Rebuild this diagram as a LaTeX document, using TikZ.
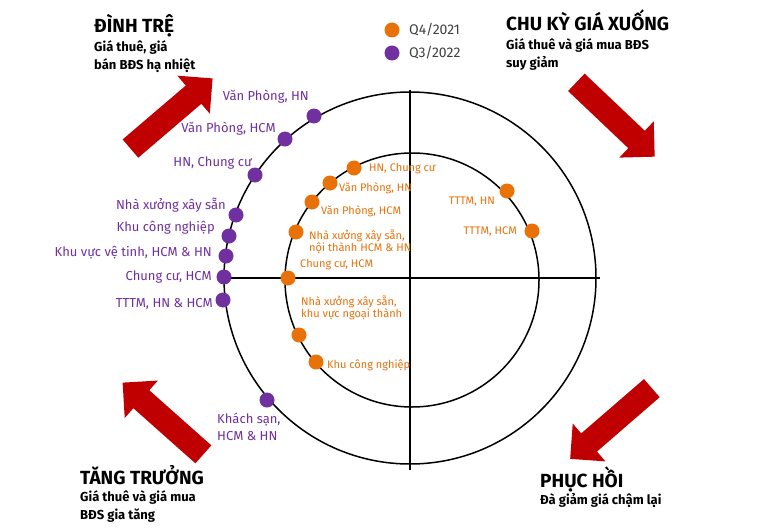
\documentclass[tikz,border=0pt]{standalone}
\usepackage{fontspec}
\setmainfont{Fira Sans}
\definecolor{org}{HTML}{E8710A}
\definecolor{pur}{HTML}{7030A0}
\definecolor{rd}{HTML}{C00000}
\begin{document}
\begin{tikzpicture}[x=1pt,y=-1pt,
  od/.style={circle,fill=org,minimum size=15pt,inner sep=0pt},
  pd/.style={circle,fill=pur,minimum size=15pt,inner sep=0pt},
  ol/.style={text=org,font=\fontsize{11}{12}\selectfont,inner sep=0pt,align=left},
  pl/.style={text=pur,font=\fontsize{13}{17}\selectfont,inner sep=0pt},
  ttl/.style={font=\fontsize{19}{22}\selectfont\bfseries,inner sep=0pt,anchor=base west},
  sub/.style={font=\fontsize{13}{18.5}\selectfont\bfseries,inner sep=0pt,anchor=north west,align=left},
  blockarrow/.pic={\fill[rd] (-54,-12) -- (29,-12) -- (29,-25) -- (54,0) -- (29,25) -- (29,12) -- (-54,12) -- cycle;}]
\useasboundingbox (0,0) rectangle (765,527);
\fill[white] (0,0) rectangle (765,527);
\node[circle,draw,line width=1.5pt,minimum size=372pt,inner sep=0pt] (outer) at (410,278) {};
\node[circle,draw,line width=1.5pt,minimum size=254pt,inner sep=0pt] (inner) at (412,280) {};
\coordinate (vt) at (410,90); \coordinate (vb) at (410,470);
\coordinate (hl) at (224,278); \coordinate (hr) at (600,278);
\draw[line width=1.5pt] (vt) -- (vb);
\draw[line width=1.5pt] (hl) -- (hr);
% arrows
\pic[rotate=40.5] at (171.5,113.5) {blockarrow};
\pic[rotate=-43.5] at (615.5,119.5) {blockarrow};
\pic[rotate=138.4] at (163,418.5) {blockarrow};
\pic[rotate=-139.1] at (611,423.5) {blockarrow};
% titles
\node[ttl] (t1) at (94,33) {ĐÌNH TRỆ};
\node[sub] (s1) at (94,40) {Giá thuê, giá\\bán BĐS hạ nhiệt};
\node[ttl] (t2) at (506,31) {CHU KỲ GIÁ XUỐNG};
\node[sub] (s2) at (506,38) {Giá thuê và giá mua BĐS\\suy giảm};
\node[ttl] (t3) at (80,484) {TĂNG TRƯỞNG};
\node[sub] (s3) at (80,490) {Giá thuê và giá mua\\BĐS gia tăng};
\node[ttl] (t4) at (540,487) {PHỤC HỒI};
\node[sub] (s4) at (540,493) {Đà giảm giá chậm lại};
% legend
\node[od] (lo) at (392,30) {};
\node[pd] (lp) at (392,53) {};
\node[anchor=west,text=black!75,font=\fontsize{14}{16}\selectfont,inner sep=0pt] (lot) at (409,30) {Q4/2021};
\node[anchor=west,text=black!75,font=\fontsize{14}{16}\selectfont,inner sep=0pt] (lpt) at (409,53) {Q3/2022};
% purple dots
\node[pd] (p1) at (314,116) {};
\node[pd] (p2) at (285,139) {};
\node[pd] (p3) at (255,175) {};
\node[pd] (p4) at (236,215) {};
\node[pd] (p5) at (229,236) {};
\node[pd] (p6) at (226,256) {};
\node[pd] (p7) at (224,277) {};
\node[pd] (p8) at (223,300) {};
\node[pd] (p9) at (267,400) {};
\node[pl,anchor=east] (pl1) at (309,97) {Văn Phòng, HN};
\node[pl,anchor=east] (pl2) at (276,129) {Văn Phòng, HCM};
\node[pl,anchor=east] (pl3) at (252,163) {HN, Chung cư};
\node[pl,anchor=east] (pl4) at (226,205) {Nhà xưởng xây sẵn};
\node[pl,anchor=east] (pl5) at (215,228) {Khu công nghiệp};
\node[pl,anchor=east] (pl6) at (212,253) {Khu vực vệ tinh, HCM \& HN};
\node[pl,anchor=east] (pl7) at (212,277) {Chung cư, HCM};
\node[pl,anchor=east] (pl8) at (213,304) {TTTM, HN \& HCM};
\node[pl,anchor=west,align=left] (pl9) at (217,427) {Khách sạn,\\HCM \& HN};
% orange dots
\node[od] (o1) at (354,168) {};
\node[od] (o2) at (330,183) {};
\node[od] (o3) at (312,202) {};
\node[od] (o4) at (296,232) {};
\node[od] (o5) at (288,278) {};
\node[od] (o6) at (299,335) {};
\node[od] (o7) at (316,362) {};
\node[od] (o8) at (507,191) {};
\node[od] (o9) at (532,231) {};
\node[ol,anchor=west] (ol1) at (369,169) {HN, Chung cư};
\node[ol,anchor=west] (ol2) at (339,188) {Văn Phòng, HN};
\node[ol,anchor=west] (ol3) at (321,211) {Văn Phòng, HCM};
\node[ol,anchor=west] (ol4) at (309,242) {Nhà xưởng xây sẵn,\\nội thành HCM \& HN};
\node[ol,anchor=west] (ol5) at (300,265) {Chung cư, HCM};
\node[ol,anchor=west] (ol6) at (301,308) {Nhà xưởng xây sẵn,\\khu vực ngoại thành};
\node[ol,anchor=west] (ol7) at (327,365) {Khu công nghiệp};
\node[ol,anchor=east] (ol8) at (495,202) {TTTM, HN};
\node[ol,anchor=east] (ol9) at (517,232) {TTTM, HCM};
\end{tikzpicture}
\end{document}
